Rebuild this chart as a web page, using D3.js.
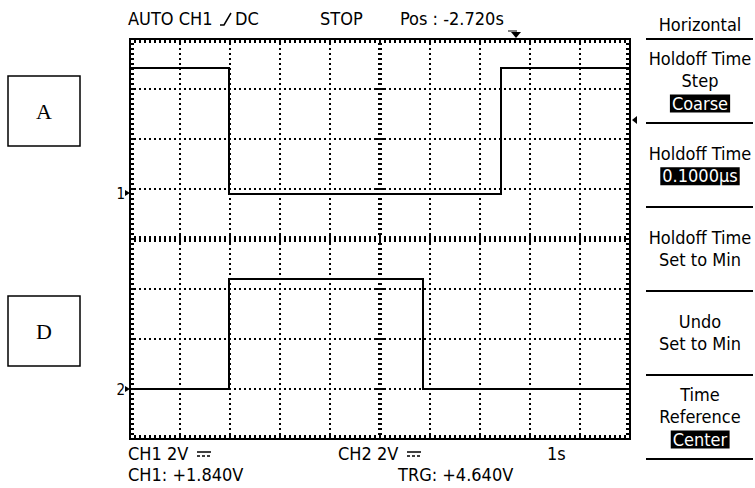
<!DOCTYPE html>
<html>
<head>
<meta charset="utf-8">
<script src="https://cdn.jsdelivr.net/npm/d3@7"></script>
<style>
  body { margin: 0; background: #fff; }
  text { font-family: "DejaVu Sans Condensed", "DejaVu Sans", sans-serif; font-size: 18px; fill: #000; }
  .serif { font-family: "Liberation Serif", "Times New Roman", serif; font-size: 22px; }
</style>
</head>
<body>
<svg id="scope" width="755" height="488"></svg>
<script>
// --- data ---
// time in seconds (1 s/div, 0 = screen centre), level in volts at each step
const ch1Times = [-5, -3.02, 2.41, 5];
const ch1Volts = [5.0, -0.05, 5.0, 5.0];
const ch2Times = [-5, -3.03, 0.86, 5];
const ch2Volts = [0, 4.4, 0, 0];

const voltsPerDiv = 2;
const ch1Position = 1.84;   // V, from "CH1: +1.840V"
const ch2Position = -6.0;
const triggerPos = 2.72;    // s, from "Pos: -2.720s"
const triggerLevelDiv = 2.38;

const topReadout = [["AUTO CH1", 128], ["DC", 235], ["STOP", 320], ["Pos : -2.720s", 400]];
const bottomReadout = [["CH1  2V", 128, 0], ["CH2  2V", 338, 0], ["1s", 547, 0],
                       ["CH1: +1.840V", 128, 1], ["TRG: +4.640V", 398, 1]];
const menuTitle = "Horizontal";
const menuLabels = [["Holdoff Time", "Step"], ["Holdoff Time"], ["Holdoff Time", "Set to Min"],
                    ["Undo", "Set to Min"], ["Time", "Reference"]];
const menuValues = ["Coarse", "0.1000\u00b5s", null, null, "Center"];
const sideBoxes = ["A", "D"];

const svg = d3.select("#scope");
svg.append("rect").attr("width", 755).attr("height", 488).attr("fill", "#fff");

const x = d3.scaleLinear().domain([-5, 5]).range([130, 630]);
const y = d3.scaleLinear().domain([-4, 4]).range([439, 39]);   // in divisions

const minorX = d3.range(-49, 50).map(d => d / 10);
const minorY = d3.range(-39, 40).map(d => d / 10);
const isMajor = v => Math.abs(v - Math.round(v)) < 1e-6;

const grid = svg.append("g").attr("shape-rendering", "crispEdges");

// dotted graticule
const dots = [];
d3.range(-4, 5).filter(d => d !== 0).forEach(gx => {
    minorY.filter(v => v !== 0).forEach(gy => dots.push([x(gx), y(gy)]));
});
d3.range(-3, 4).filter(d => d !== 0).forEach(gy => {
    minorX.filter(v => !isMajor(v)).forEach(gx => dots.push([x(gx), y(gy)]));
});
grid.selectAll("rect.dot").data(dots).join("rect")
    .attr("class", "dot")
    .attr("x", d => d[0] - 1).attr("y", d => d[1] - 1)
    .attr("width", 2).attr("height", 2).attr("fill", "#000");

// centre cross with tick marks
grid.selectAll("line.cy").data(minorY.filter(v => v !== 0)).join("line")
    .attr("class", "cy")
    .attr("x1", d => x(0) - (isMajor(d) ? 4 : 2)).attr("x2", d => x(0) + (isMajor(d) ? 4 : 2))
    .attr("y1", d => y(d)).attr("y2", d => y(d))
    .attr("stroke", "#000").attr("stroke-width", 2);
grid.selectAll("line.cx").data(minorX).join("line")
    .attr("class", "cx")
    .attr("x1", d => x(d)).attr("x2", d => x(d))
    .attr("y1", d => y(0) - (isMajor(d) ? 5 : 3)).attr("y2", d => y(0) + (isMajor(d) ? 5 : 3))
    .attr("stroke", "#000").attr("stroke-width", 2);

// border ticks
const tickLen = 4;
grid.selectAll("line.bt").data(minorX).join("line").attr("class", "bt")
    .attr("x1", d => x(d)).attr("x2", d => x(d)).attr("y1", y(4)).attr("y2", y(4) + tickLen);
grid.selectAll("line.bb").data(minorX).join("line").attr("class", "bb")
    .attr("x1", d => x(d)).attr("x2", d => x(d)).attr("y1", y(-4)).attr("y2", y(-4) - tickLen);
grid.selectAll("line.bl").data(minorY).join("line").attr("class", "bl")
    .attr("x1", x(-5)).attr("x2", x(-5) + tickLen).attr("y1", d => y(d)).attr("y2", d => y(d));
grid.selectAll("line.br").data(minorY).join("line").attr("class", "br")
    .attr("x1", x(5)).attr("x2", x(5) - tickLen).attr("y1", d => y(d)).attr("y2", d => y(d));
grid.selectAll("line.bt, line.bb, line.bl, line.br").attr("stroke", "#000").attr("stroke-width", 2);

grid.append("rect")
    .attr("x", x(-5)).attr("y", y(4))
    .attr("width", x(5) - x(-5)).attr("height", y(-4) - y(4))
    .attr("fill", "none").attr("stroke", "#000").attr("stroke-width", 2);

// traces
function trace(times, volts, pos) {
    const pts = times.map((t, i) => [t, volts[i]]);
    const line = d3.line()
        .x(d => x(d[0]))
        .y(d => y((d[1] + pos) / voltsPerDiv))
        .curve(d3.curveStepAfter);
    svg.append("path").attr("d", line(pts))
        .attr("fill", "none").attr("stroke", "#000").attr("stroke-width", 2)
        .attr("shape-rendering", "crispEdges");
}
trace(ch1Times, ch1Volts, ch1Position);
trace(ch2Times, ch2Volts, ch2Position);

// ground markers
[["1", ch1Position], ["2", ch2Position]].forEach(([name, pos]) => {
    const gy = y(pos / voltsPerDiv);
    svg.append("text").attr("x", 125).attr("y", gy + 6).attr("text-anchor", "end")
        .style("font-size", "15px").text(name);
    svg.append("path").attr("d", `M${x(-5) - 5},${gy - 3}L${x(-5)},${gy}L${x(-5) - 5},${gy + 3}Z`);
});

// trigger position and level markers
const tx = x(triggerPos);
svg.append("path").attr("d", `M${tx - 5},${y(4) - 7}L${tx + 5},${y(4) - 7}L${tx},${y(4) - 1}Z`);
svg.append("path").attr("d", `M${tx - 8},${y(4) - 8}H${tx + 1}`).attr("stroke", "#000");
const ty = y(triggerLevelDiv);
svg.append("path").attr("d", `M${x(5) + 2},${ty}L${x(5) + 7},${ty - 4}L${x(5) + 7},${ty + 4}Z`);

// top readout
topReadout.forEach(([s, px]) => svg.append("text").attr("x", px).attr("y", 25).text(s));
svg.append("path").attr("d", "M220,25H224L231,13").attr("fill", "none").attr("stroke", "#000").attr("stroke-width", 1.5);

// bottom readout
bottomReadout.forEach(([s, px, row]) => svg.append("text").attr("x", px).attr("y", 460 + row * 21).text(s));
[128, 338].forEach(px => {
    const sx = px + 69;
    svg.append("line").attr("x1", sx).attr("x2", sx + 14).attr("y1", 452).attr("y2", 452)
        .attr("stroke", "#000").attr("stroke-width", 1.5);
    svg.append("line").attr("x1", sx).attr("x2", sx + 14).attr("y1", 456).attr("y2", 456)
        .attr("stroke", "#000").attr("stroke-width", 1.5).attr("stroke-dasharray", "3,2");
});

// side menu
const menuX = 700;
const boxH = (y(-4) + 20 - y(4)) / menuLabels.length;   // 84 px
svg.append("text").attr("x", menuX).attr("y", 31).attr("text-anchor", "middle").text(menuTitle);
d3.range(menuLabels.length + 1).forEach(i => {
    svg.append("line").attr("x1", 646).attr("x2", 753)
        .attr("y1", y(4) + i * boxH).attr("y2", y(4) + i * boxH)
        .attr("stroke", "#000").attr("stroke-width", 2);
});
menuLabels.forEach((labels, i) => {
    const rows = labels.concat(menuValues[i] ? [menuValues[i]] : []);
    const mid = y(4) + (i + 0.5) * boxH;
    rows.forEach((s, j) => {
        const by = mid + (j - (rows.length - 1) / 2) * 22.5 + 6;
        const isValue = j === labels.length;
        const t = svg.append("text").attr("x", menuX).attr("y", by)
            .attr("text-anchor", "middle").text(s);
        if (isValue) {
            const bb = t.node().getBBox();
            svg.insert("rect", () => t.node())
                .attr("x", bb.x - 2).attr("y", by - 15)
                .attr("width", bb.width + 4).attr("height", 18).attr("fill", "#000");
            t.style("fill", "#fff");
        }
    });
});

// labelled boxes at the left
sideBoxes.forEach((s, i) => {
    const cy = [111, 331][i];
    svg.append("rect").attr("x", 8).attr("y", cy - 35).attr("width", 72).attr("height", 70)
        .attr("fill", "none").attr("stroke", "#000").attr("stroke-width", 1.5);
    svg.append("text").attr("class", "serif").attr("x", 44).attr("y", cy + 8)
        .attr("text-anchor", "middle").text(s);
});
</script>
</body>
</html>
